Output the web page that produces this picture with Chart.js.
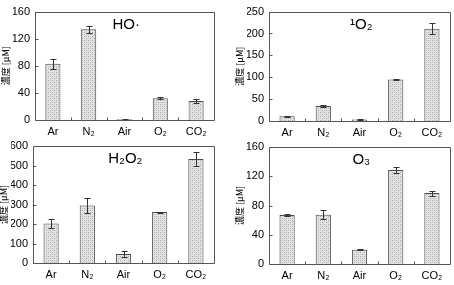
<!DOCTYPE html>
<html><head><meta charset="utf-8">
<script src="https://cdn.jsdelivr.net/npm/chart.js@4/dist/chart.umd.min.js"></script>
<style>
html,body{margin:0;padding:0;background:#fff}
#wrap{position:relative;width:454px;height:285px;overflow:hidden}
canvas{position:absolute;left:0;top:0}
</style></head>
<body><div id="wrap">
<canvas id="c0" width="454" height="285"></canvas>
<canvas id="c1" width="454" height="285"></canvas>
<canvas id="c2" width="454" height="285"></canvas>
<canvas id="c3" width="454" height="285"></canvas>
</div>
<script>
// ---- data ----
const categories = ['Ar', 'N\u2082', 'Air', 'O\u2082', 'CO\u2082'];
const panelTitles = ['HO\u00B7', '\u00B9O\u2082', 'H\u2082O\u2082', 'O\u2083'];
const yAxisTitle = '濃度 [μM]';

const hoValues = [83, 134, 1, 32, 28];
const hoErrors = [7, 5, 0.5, 1.5, 3];
const singletO2Values = [11, 34, 3.5, 95, 211];
const singletO2Errors = [1.5, 2.5, 0.5, 1.5, 12];
const h2o2Values = [203, 295, 46, 261, 533];
const h2o2Errors = [25, 38, 14, 3, 34];
const o3Values = [67, 67.5, 19.6, 128.5, 97];
const o3Errors = [1.5, 6, 1, 4.3, 3.4];

const yMaxes = [160, 250, 600, 160];
const yStepSizes = [40, 50, 100, 40];

// ---- layout (plot areas in page pixels) ----
const areas = [
  {left: 35, right: 214, top: 3, bottom: 120},
  {left: 269, right: 450, top: 3, bottom: 121},
  {left: 33, right: 214, top: 146, bottom: 263},
  {left: 269, right: 450, top: 147, bottom: 264}
];
const W = 454, H = 285;
const FONT = '"Liberation Sans", Arial, sans-serif';
const AX = '#555';

function stipple(ctx) {
  const c = document.createElement('canvas');
  c.width = 4; c.height = 4;
  const g = c.getContext('2d');
  g.fillStyle = '#e2e2e2'; g.fillRect(0, 0, 4, 4);
  g.fillStyle = '#a8a8a8';
  g.fillRect(0, 0, 1, 1); g.fillRect(2, 2, 1, 1);
  g.fillStyle = '#c8c8c8';
  g.fillRect(2, 0, 1, 1); g.fillRect(0, 2, 1, 1);
  return ctx.createPattern(c, 'repeat');
}

const panelPlugin = {
  id: 'panel',
  afterDatasetsDraw(chart, args, opts) {
    const {ctx, chartArea: a, scales: {x, y}} = chart;
    const vals = chart.data.datasets[0].data;
    const meta = chart.getDatasetMeta(0);
    ctx.save();
    // error bars
    ctx.strokeStyle = '#333'; ctx.lineWidth = 1;
    meta.data.forEach((bar, i) => {
      const v = vals[i], e = opts.errors[i];
      const px = Math.round(bar.x) + 0.5;
      const yt = Math.round(y.getPixelForValue(v + e)) + 0.5;
      const yb = Math.round(y.getPixelForValue(v - e)) + 0.5;
      ctx.beginPath();
      ctx.moveTo(px, yt); ctx.lineTo(px, yb);
      ctx.moveTo(px - 3, yt); ctx.lineTo(px + 3, yt);
      ctx.moveTo(px - 3, yb); ctx.lineTo(px + 3, yb);
      ctx.stroke();
    });
    // frame
    ctx.strokeStyle = AX;
    const L = Math.round(a.left) + 0.5, T = Math.round(a.top) + 0.5;
    const R = Math.round(a.right) + 0.5, B = Math.round(a.bottom) + 0.5;
    ctx.beginPath();
    ctx.rect(L, T, R - L, B - T);
    ctx.stroke();
    // inward y ticks
    ctx.beginPath();
    y.ticks.forEach(t => {
      const py = Math.round(y.getPixelForValue(t.value)) + 0.5;
      ctx.moveTo(L, py); ctx.lineTo(L + 3, py);
    });
    // inward x ticks at category boundaries
    for (let i = 1; i < vals.length; i++) {
      const px = Math.round((x.getPixelForValue(i - 1) + x.getPixelForValue(i)) / 2) + 0.5;
      ctx.moveTo(px, B); ctx.lineTo(px, B - 3);
    }
    ctx.stroke();
    // panel title
    ctx.fillStyle = '#000';
    ctx.font = '15px ' + FONT;
    ctx.textAlign = 'center'; ctx.textBaseline = 'middle';
    ctx.fillText(opts.title, a.left + a.width * 0.51, a.top + 13);
    // y axis title
    ctx.font = '9px "Noto Sans CJK JP", ' + FONT;
    ctx.translate(a.left - 29, (a.top + a.bottom) / 2);
    ctx.rotate(-Math.PI / 2);
    ctx.fillText(yAxisTitle, 0, 0);
    ctx.restore();
  }
};

function makeChart(idx, values, errors) {
  const cv = document.getElementById('c' + idx);
  const ctx = cv.getContext('2d');
  const ar = areas[idx];
  const yW = 22, xH = 20;
  return new Chart(ctx, {
    type: 'bar',
    data: {
      labels: categories,
      datasets: [{
        data: values,
        backgroundColor: stipple(ctx),
        borderColor: '#4a4a4a',
        borderWidth: 1,
        barPercentage: 0.42,
        categoryPercentage: 1
      }]
    },
    options: {
      responsive: false,
      animation: false,
      devicePixelRatio: 1,
      layout: {padding: {left: ar.left - yW, right: W - ar.right, top: ar.top, bottom: H - ar.bottom - xH}},
      plugins: {
        legend: {display: false},
        tooltip: {enabled: false},
        panel: {errors: errors, title: panelTitles[idx]}
      },
      scales: {
        x: {
          grid: {display: false, drawTicks: false},
          border: {display: false},
          ticks: {color: '#000', font: {family: FONT, size: 11}, padding: 5, maxRotation: 0, autoSkip: false},
          afterFit: s => { s.height = xH; }
        },
        y: {
          min: 0, max: yMaxes[idx],
          grid: {display: false, drawTicks: false},
          border: {display: false},
          ticks: {stepSize: yStepSizes[idx], color: '#000', font: {family: FONT, size: 11}, padding: 5},
          afterFit: s => { s.width = yW; }
        }
      }
    },
    plugins: [panelPlugin]
  });
}

makeChart(0, hoValues, hoErrors);
makeChart(1, singletO2Values, singletO2Errors);
makeChart(2, h2o2Values, h2o2Errors);
makeChart(3, o3Values, o3Errors);
</script>
</body></html>
